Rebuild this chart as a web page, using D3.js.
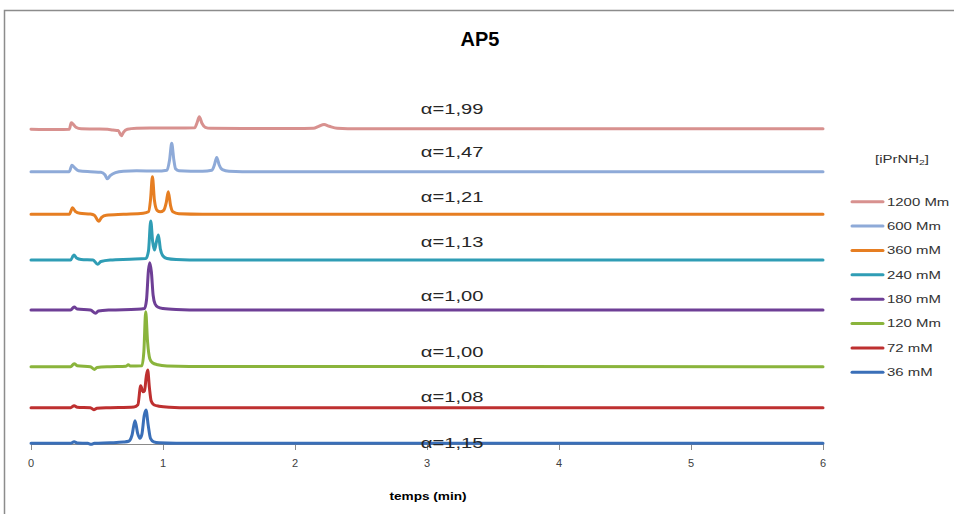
<!DOCTYPE html>
<html><head><meta charset="utf-8">
<script src="https://cdn.jsdelivr.net/npm/d3@7"></script>
<style>body{margin:0;background:#fff}svg{display:block}</style>
</head><body><svg id="chart" width="954" height="514"></svg>
<script>
// ---------- DATA ----------
const chartTitle = "AP5";
const xLabel = "temps (min)";
const legendTitle = "[iPrNH";
const seriesNames = ["1200 Mm", "600 Mm", "360 mM", "240 mM", "180 mM", "120 Mm", "72 mM", "36 mM"];
const seriesColors = ["#d8918f", "#8eaad8", "#e67e22", "#2f9db5", "#6e3f96", "#8ab43c", "#be3030", "#3a6fb8"];
const seriesOffsets = [314.7, 272.3, 229.7, 184, 134, 77.3, 36.3, 0.7];
const alphaLabels = ["α=1,99", "α=1,47", "α=1,21", "α=1,13", "α=1,00", "α=1,00", "α=1,08", "α=1,15"];
const alphaY = [335, 292, 247, 202, 148, 92, 47, 1];
const alphaT = 3.19;
const xTicks = [0, 1, 2, 3, 4, 5, 6];

const trace1200 = [[0,0],[0.2,-0.3],[0.29,0],[0.305,6.5],[0.32,5],[0.34,2],[0.38,0.5],[0.5,0.3],[0.58,0],[0.62,-0.7],[0.66,-1.2],[0.685,-6.4],[0.7,-3],[0.73,0],[0.8,1],[0.9,1.3],[1.1,1.2],[1.24,1.5],[1.258,6.5],[1.275,12.6],[1.295,6],[1.32,2],[1.36,1],[1.6,0.8],[2.0,0.8],[2.14,1],[2.18,3],[2.22,4.7],[2.26,3],[2.32,1],[2.4,0.6],[6,0.5]];
const trace600 = [[0,0],[0.29,0],[0.31,6.5],[0.33,4],[0.36,1],[0.45,0],[0.53,-0.5],[0.56,-3],[0.578,-7],[0.6,-4],[0.64,-1],[0.7,0.5],[0.8,1],[0.95,0.6],[1.03,1.5],[1.05,12],[1.066,28.4],[1.082,12],[1.095,3],[1.12,1],[1.3,0.5],[1.37,1.5],[1.39,7],[1.407,14.3],[1.425,7],[1.45,2],[1.5,0.5],[1.7,0],[6,0]];
const trace360 = [[0,0],[0.29,0],[0.315,6.5],[0.335,3],[0.37,1],[0.45,0.3],[0.48,-1],[0.515,-7],[0.535,-3],[0.57,-1],[0.7,0],[0.85,1],[0.89,2.5],[0.905,14],[0.92,37.6],[0.935,14],[0.955,4],[0.98,2.5],[1.005,4],[1.025,12],[1.04,22.6],[1.057,9],[1.075,2.5],[1.12,0.5],[1.3,0],[6,0]];
const trace240 = [[0,0],[0.3,0],[0.325,5],[0.345,2],[0.38,0.5],[0.47,0],[0.505,-4.3],[0.53,-1.5],[0.6,0],[0.75,0.8],[0.87,1.5],[0.89,9],[0.907,39],[0.922,18],[0.935,10],[0.95,18],[0.965,25],[0.98,11],[1.0,4],[1.03,1.5],[1.1,0.5],[1.3,0],[6,0]];
const trace180 = [[0,0],[0.3,0],[0.327,3],[0.35,1],[0.45,0],[0.49,-3.3],[0.51,-1],[0.6,0],[0.8,0.7],[0.86,1.5],[0.875,10],[0.89,40],[0.9,47.3],[0.912,38],[0.925,15],[0.94,6],[0.96,3],[1.0,1.5],[1.1,0.5],[1.3,0],[6,0]];
const trace120 = [[0,0],[0.3,0],[0.327,3],[0.35,1],[0.45,0],[0.48,-2.7],[0.5,-0.8],[0.6,0],[0.72,0.5],[0.737,2],[0.75,0.7],[0.84,1],[0.855,15],[0.869,55],[0.883,25],[0.9,8],[0.92,4],[0.96,2],[1.03,0.8],[1.2,0.3],[6,0]];
const trace72 = [[0,0],[0.3,0],[0.327,2],[0.35,0.5],[0.45,0],[0.476,-2],[0.5,-0.5],[0.6,0],[0.78,0.8],[0.81,3],[0.831,22],[0.848,16],[0.86,17],[0.873,31],[0.884,37.7],[0.897,20],[0.91,7],[0.93,3],[0.97,1.5],[1.05,0.5],[1.2,0],[6,0]];
const trace36 = [[0,0],[0.3,0],[0.327,1.5],[0.35,0.3],[0.43,0],[0.455,-1],[0.48,0],[0.6,0.5],[0.7,1.2],[0.74,2],[0.765,8],[0.788,22.6],[0.808,10],[0.825,5],[0.84,9],[0.858,28],[0.871,33.3],[0.888,18],[0.905,5],[0.93,1.5],[0.97,0.5],[1.1,0],[6,0]];
const traces = [trace1200, trace600, trace360, trace240, trace180, trace120, trace72, trace36];

// ---------- CHART ----------
const svg = d3.select("#chart");
const SX = 1.3; // horizontal text stretch of the reference
const font = "'Liberation Sans', Arial, sans-serif";

const x = d3.scaleLinear().domain([0, 6]).range([31, 823]);
const y = d3.scaleLinear().domain([0, 400]).range([444, 44]);

// frame
svg.append("rect").attr("x", 4.5).attr("y", 10.5).attr("width", 960).attr("height", 600)
  .attr("fill", "none").attr("stroke", "#8c8c8c").attr("stroke-width", 1.5);

function stext(px, py, str, size, anchor, weight, color, sx = SX) {
  return svg.append("text")
    .attr("transform", `translate(${px},${py}) scale(${sx},1)`)
    .attr("text-anchor", anchor).attr("dominant-baseline", "central")
    .attr("font-family", font).attr("font-size", size)
    .attr("font-weight", weight).attr("fill", color).text(str);
}

// title
stext(480, 38, chartTitle, 21, "middle", "bold", "#000", 0.95);

// x axis
const axis = svg.append("g").attr("transform", `translate(0,${y(0)})`)
  .call(d3.axisBottom(x).tickValues(xTicks).tickSize(6).tickFormat(""));
axis.select(".domain").attr("stroke", "#8a8a8a");
axis.selectAll(".tick line").attr("stroke", "#8a8a8a");
xTicks.forEach(t => stext(x(t), 463, d3.format("d")(t), 11, "middle", "normal", "#404040", 1.0));
stext(428, 497, xLabel, 10.5, "middle", "bold", "#000");

// traces
const line = d3.line().curve(d3.curveMonotoneX);
traces.forEach((tr, i) => {
  svg.append("path")
    .attr("d", line(tr.map(d => [x(d[0]), y(d[1] + seriesOffsets[i])])))
    .attr("fill", "none").attr("stroke", seriesColors[i])
    .attr("stroke-width", 3).attr("stroke-linejoin", "round").attr("stroke-linecap", "round");
});

// alpha labels
alphaLabels.forEach((lab, i) => {
  stext(x(alphaT), y(alphaY[i]), lab, 15.5, "middle", "normal", "#262626");
});

// legend
const lt = stext(875, 159, "", 11.5, "start", "normal", "#333");
lt.append("tspan").text(legendTitle);
lt.append("tspan").attr("font-size", 8).attr("dy", 3).text("2");
lt.append("tspan").attr("dy", -3).text("]");
const ly = d3.scalePoint().domain(seriesNames).range([201.7, 372.3]);
seriesNames.forEach((n, i) => {
  svg.append("line").attr("x1", 852).attr("x2", 883).attr("y1", ly(n)).attr("y2", ly(n))
    .attr("stroke", seriesColors[i]).attr("stroke-width", 3).attr("stroke-linecap", "round");
  stext(887, ly(n), n, 11.5, "start", "normal", "#333");
});
</script></body></html>
